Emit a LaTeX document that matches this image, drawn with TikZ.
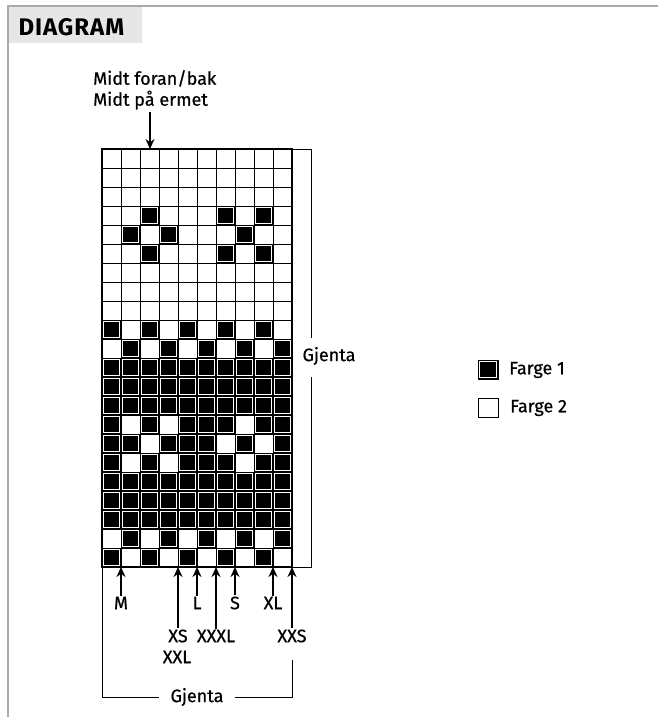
\documentclass[tikz,border=0pt]{standalone}
\usepackage{fontspec}
\setmainfont{Fira Sans}[FakeBold=0.6]
\newfontfamily\headfont{Fira Sans}[LetterSpace=4.0]
\usepackage{tikz}
\usetikzlibrary{arrows.meta,positioning}

\definecolor{framegray}{RGB}{170,170,170}
\definecolor{headgray}{RGB}{230,230,230}

\begin{document}
\begin{tikzpicture}[x=1pt,y=-1pt,font=\fontsize{18}{21}\selectfont,
  cellline/.style={draw=black,line width=0.8pt},
  arr/.style={-{Stealth[length=10pt,width=9pt]},line width=1.3pt},
  lbl/.style={inner sep=1pt}]
  \useasboundingbox (0,0) rectangle (658,717);
  % frame and header
  \draw[framegray,line width=2pt] (8,717) -- (8,6) -- (658,6);
  \fill[headgray] (9,7) rectangle (142,43);
  \node[anchor=west,font=\headfont\bfseries\fontsize{24}{27}\selectfont] (title) at (15,27) {DIAGRAM};

  % chart cells
  \foreach \r in {1,...,22}
    \foreach \c in {1,...,10}
      \draw[cellline] ({102+19*(\c-1)},{149+19*(\r-1)}) rectangle ++(19,19);
  \foreach \r/\cols in {4/{3,7,9},5/{2,4,8},6/{3,7,9},
      10/{1,3,5,7,9},11/{2,4,6,8,10},12/{1,...,10},13/{1,...,10},14/{1,...,10},
      15/{1,3,5,6,7,9,10},16/{1,2,4,5,6,8,10},17/{1,3,5,6,7,9,10},
      18/{1,...,10},19/{1,...,10},20/{1,...,10},21/{2,4,6,8,10},22/{1,3,5,7,9}}
    \foreach \c in \cols {
      \fill[black] ({102+19*(\c-1)},{149+19*(\r-1)}) rectangle ++(19,19);
      \draw[white,line width=0.6pt] ({103.6+19*(\c-1)},{150.6+19*(\r-1)}) rectangle ++(15.8,15.8);
    }
  \draw[line width=1.8pt] (102,149) rectangle (292,567);
  \coordinate (gtl) at (102,149);
  \coordinate (gtr) at (292,149);
  \coordinate (gbl) at (102,567);
  \coordinate (gbr) at (292,567);

  % centre mark
  \node[align=left,anchor=north west,lbl] (mid) at (92,69) {Midt foran/bak\\Midt på ermet};
  \coordinate (ctr) at (150,149);
  \draw[arr] (ctr |- 0,112) -- (ctr);

  % repeat bracket, right
  \node[lbl] (gjR) at (329,356) {Gjenta};
  \draw[line width=1pt] (gtr) -- (311,149) -- (311,338);
  \draw[line width=1pt] (311,377) -- (311,567) -- (gbr);

  % size marks
  \foreach \nm/\x/\y in {M/121/603,L/197/603,S/235/603,XL/273/603,
      XS/178/636,XXXL/216/636,XXS/292/636} {
    \node[lbl] (lab\nm) at (\x,\y) {\nm};
    \coordinate (pt\nm) at (\x,567);
    \draw[arr] (lab\nm) -- (pt\nm);
  }
  \node[lbl] (labXXL) at (177,657) {XXL};

  % repeat bracket, bottom
  \node[lbl] (gjB) at (197,697) {Gjenta};
  \draw[line width=1pt] (gbl) -- (102,697) -- ([xshift=-10pt]gjB.west);
  \draw[line width=1pt] ([xshift=10pt]gjB.east) -- (292,697) -- (292,660);

  % legend
  \fill[black] (478,360) rectangle (498,379);
  \draw[white,line width=0.6pt] (479.6,361.6) rectangle (496.4,377.4);
  \draw[line width=1pt] (478,360) rectangle (498,379);
  \node[anchor=west,lbl] (f1) at (508,370) {Farge 1};
  \draw[line width=1pt] (478,398) rectangle (498,417);
  \node[anchor=west,lbl] (f2) at (509,408) {Farge 2};
\end{tikzpicture}
\end{document}
